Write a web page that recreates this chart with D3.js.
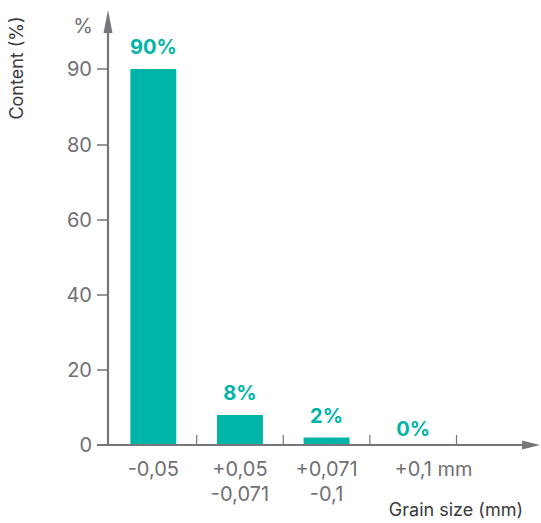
<!DOCTYPE html>
<html><head><meta charset="utf-8">
<script src="https://cdn.jsdelivr.net/npm/d3@7"></script>
<style>body{margin:0;background:#fff}svg{display:block}text{font-family:Inter,"Noto Sans",sans-serif}</style>
</head><body><svg id="c" width="541" height="523"></svg>
<script>
const categories = [["-0,05"], ["+0,05", "-0,071"], ["+0,071", "-0,1"], ["+0,1", " mm"]];
const values = [90, 8, 2, 0];
const valueLabels = ["90%", "8%", "2%", "0%"];
const yTicks = [0, 20, 40, 60, 80, 90];

const teal = "#00b4a8", axisCol = "#76767a", tickText = "#707074", dark = "#3a3a3c";
const svg = d3.select("#c");
const x0 = 108, yZero = 445;
const x = d3.scaleBand().domain(d3.range(categories.length)).range([110, 456.5]).paddingInner(0).paddingOuter(0);
// axis is not to scale at the top (90 placed at the bar top), so piecewise linear
const y = d3.scaleLinear().domain([0, 80, 90]).range([yZero, 145, 69]);
const bw = x.bandwidth() * 0.53;

// bars
svg.selectAll("rect.bar").data(values).join("rect")
  .attr("x", (d, i) => x(i) + (x.bandwidth() - bw) / 2)
  .attr("width", bw)
  .attr("y", d => y(d))
  .attr("height", d => yZero - y(d))
  .attr("fill", teal);

// value labels
svg.selectAll("text.val").data(values).join("text")
  .attr("x", (d, i) => x(i) + x.bandwidth() / 2)
  .attr("y", d => d === 0 ? y(d) - 9 : y(d) - 15)
  .attr("text-anchor", "middle").attr("fill", teal)
  .attr("font-size", 20).attr("font-weight", 700)
  .text((d, i) => valueLabels[i]);

// y axis
const ya = svg.append("g");
ya.append("line").attr("x1", x0).attr("x2", x0).attr("y1", yZero + 1).attr("y2", 30)
  .attr("stroke", axisCol).attr("stroke-width", 2.2);
ya.append("path").attr("d", `M${x0},10 L${x0 - 4.5},33 L${x0 + 4.5},33 Z`).attr("fill", axisCol);
yTicks.forEach(t => {
  ya.append("line").attr("x1", 97).attr("x2", x0).attr("y1", y(t)).attr("y2", y(t))
    .attr("stroke", axisCol).attr("stroke-width", 1.5);
  ya.append("text").attr("x", 92).attr("y", y(t)).attr("dy", "0.36em")
    .attr("text-anchor", "end").attr("fill", tickText).attr("font-size", 20).text(t);
});
ya.append("text").attr("x", 93).attr("y", 33).attr("text-anchor", "end")
  .attr("fill", tickText).attr("font-size", 20).text("%");

// x axis
const xa = svg.append("g");
xa.append("line").attr("x1", 97).attr("x2", 524).attr("y1", yZero).attr("y2", yZero)
  .attr("stroke", axisCol).attr("stroke-width", 2.2);
xa.append("path").attr("d", `M540,${yZero} L522,${yZero - 4.5} L522,${yZero + 4.5} Z`).attr("fill", axisCol);
categories.forEach((c, i) => {
  const xe = x(i) + x.bandwidth();
  xa.append("line").attr("x1", xe).attr("x2", xe).attr("y1", yZero).attr("y2", yZero - 10)
    .attr("stroke", axisCol).attr("stroke-width", 1.2);
  const cx = x(i) + x.bandwidth() / 2;
  if (i === categories.length - 1) {
    const t = xa.append("text").attr("y", 476).attr("fill", tickText).attr("font-size", 20);
    const main = t.append("tspan").text(c[0]);
    t.append("tspan").text(c[1]);
    const w = main.node().getComputedTextLength();
    t.attr("x", cx - w / 2);
  } else {
    c.forEach((line, j) => {
      xa.append("text").attr("x", cx).attr("y", 476 + j * 25).attr("text-anchor", "middle")
        .attr("fill", tickText).attr("font-size", 20).text(line);
    });
  }
});

// axis titles
svg.append("text").attr("x", 523).attr("y", 516).attr("text-anchor", "end")
  .attr("fill", dark).attr("font-size", 18).text("Grain size (mm)");
svg.append("text").attr("transform", "translate(23,68) rotate(-90)").attr("text-anchor", "middle")
  .attr("fill", dark).attr("font-size", 18).text("Content (%)");
</script></body></html>
